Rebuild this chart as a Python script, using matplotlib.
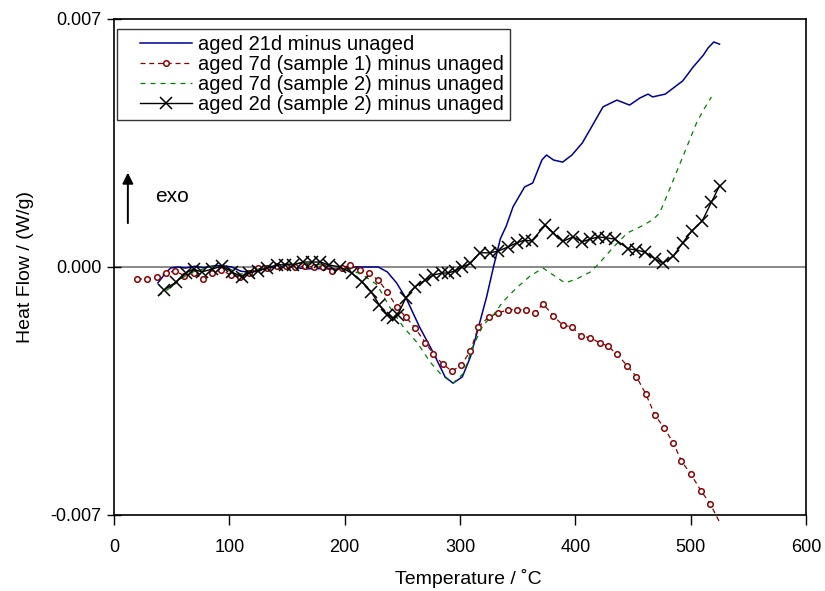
import numpy as np
import matplotlib
matplotlib.use("Agg")
from matplotlib import pyplot as plt
from matplotlib.ticker import FormatStrFormatter
from matplotlib.lines import Line2D
from matplotlib.legend_handler import HandlerLine2D

plt.rcParams['font.family'] = ['Liberation Sans', 'DejaVu Sans']
plt.rcParams['axes.unicode_minus'] = False

# heat flow values in mW/g (converted to W/g below)
t_21d = [38, 44, 49, 55, 62, 70, 78, 86, 94, 102, 110, 118, 126, 134, 142, 150, 158, 166,
         175, 183, 192, 200, 210, 220, 229, 237, 245, 254, 265, 277, 287, 294, 302, 309,
         316, 323, 329, 335, 340, 346, 356, 363, 371, 375, 381, 389, 397, 406, 414, 424,
         436, 447, 456, 463, 467, 478, 493, 497, 502, 511, 515, 520, 525]
hf_21d = [-0.45, -0.2, -0.03, 0.0, -0.03, 0.02, -0.02, 0.03, 0.04, 0.0, -0.12, -0.15, -0.08,
          -0.03, 0.0, 0.02, -0.02, -0.05, -0.05, -0.04, -0.06, -0.05, 0.0, 0.0, 0.0, -0.14,
          -0.45, -0.93, -1.7, -2.43, -3.1, -3.28, -3.1, -2.54, -1.7, -0.85, 0.0, 0.8, 1.15,
          1.7, 2.26, 2.37, 3.02, 3.16, 3.02, 2.96, 3.16, 3.5, 3.95, 4.52, 4.71, 4.57, 4.77,
          4.88, 4.8, 4.88, 5.25, 5.42, 5.64, 5.98, 6.18, 6.35, 6.29]

t_7d1 = [20, 29, 37, 45, 53, 61, 69, 77, 85, 93, 101, 109, 117, 125, 133, 141, 149, 157,
         166, 173, 181, 189, 198, 205, 213, 221, 229, 237, 245, 253, 261, 270, 277, 285,
         293, 301, 309, 316, 325, 333, 342, 349, 357, 365, 372, 381, 389, 397, 405, 413,
         421, 428, 436, 445, 453, 461, 469, 477, 485, 492, 500, 509, 517, 525]
hf_7d1 = [-0.34, -0.34, -0.28, -0.17, -0.11, -0.25, -0.17, -0.34, -0.17, -0.08, -0.23, -0.28,
          -0.17, -0.03, -0.03, 0.03, 0.03, 0.0, 0.03, 0.0, 0.0, -0.1, -0.02, 0.06, -0.08,
          -0.17, -0.37, -0.7, -1.13, -1.41, -1.72, -2.14, -2.46, -2.74, -2.94, -2.77, -2.37,
          -1.69, -1.41, -1.3, -1.2, -1.21, -1.21, -1.3, -1.04, -1.38, -1.64, -1.69, -1.95,
          -2.0, -2.14, -2.23, -2.46, -2.79, -3.1, -3.58, -4.18, -4.54, -4.97, -5.48, -5.84,
          -6.32, -6.69, -7.2]

t_7d2 = [38, 46, 54, 62, 70, 78, 86, 94, 102, 110, 118, 126, 134, 142, 150, 158, 166, 174,
         182, 190, 198, 205, 216, 228, 239, 251, 263, 274, 284, 294, 303, 311, 320, 329,
         337, 349, 361, 372, 381, 391, 401, 413, 420, 433, 445, 456, 467, 473, 479, 485,
         492, 499, 505, 511, 518]
hf_7d2 = [-0.82, -0.65, -0.45, -0.25, -0.12, -0.05, 0.02, 0.03, -0.08, -0.2, -0.12, -0.05,
          0.02, 0.05, 0.08, 0.1, 0.1, 0.08, 0.05, 0.02, -0.02, -0.08, -0.23, -0.5, -1.13,
          -1.7, -2.14, -2.68, -3.05, -3.28, -3.0, -2.26, -1.64, -1.35, -0.99, -0.59, -0.25,
          -0.03, -0.23, -0.45, -0.34, -0.14, 0.08, 0.56, 0.96, 1.13, 1.33, 1.52, 1.98, 2.46,
          3.02, 3.58, 4.06, 4.43, 4.8]

t_2d = [43, 54, 62, 69, 76, 85, 94, 102, 111, 117, 125, 133, 141, 148, 155, 164, 172, 179,
        186, 196, 206, 215, 223, 230, 237, 242, 246, 253, 261, 270, 277, 284, 290, 296,
        302, 309, 317, 326, 333, 342, 349, 356, 362, 374, 381, 389, 398, 406, 413, 420,
        427, 434, 446, 453, 460, 469, 476, 485, 493, 501, 510, 518, 525]
hf_2d = [-0.66, -0.42, -0.17, -0.06, -0.14, -0.06, 0.03, -0.14, -0.28, -0.17, -0.11, -0.03,
         0.06, 0.06, 0.06, 0.14, 0.14, 0.14, 0.06, 0.0, -0.17, -0.42, -0.7, -1.07, -1.35,
         -1.44, -1.35, -0.87, -0.56, -0.37, -0.23, -0.17, -0.17, -0.1, 0.0, 0.1, 0.4, 0.4,
         0.45, 0.57, 0.68, 0.76, 0.73, 1.18, 0.96, 0.72, 0.85, 0.71, 0.79, 0.85, 0.82, 0.79,
         0.51, 0.48, 0.42, 0.23, 0.11, 0.31, 0.68, 1.02, 1.3, 1.83, 2.29]

labels = ["aged 21d minus unaged",
          "aged 7d (sample 1) minus unaged",
          "aged 7d (sample 2) minus unaged",
          "aged 2d (sample 2) minus unaged"]

fig = plt.figure(figsize=(8.25, 5.91), dpi=100)
ax = fig.add_axes([0.1382, 0.1286, 0.8388, 0.8393])

ax.axhline(0, color="#808080", lw=1.3, zorder=1)

ax.plot(t_21d, np.array(hf_21d) / 1000, color="#000099", lw=1.1, label=labels[0])
ax.plot(t_7d1, np.array(hf_7d1) / 1000, color="#8b0000", lw=0.9, ls=(0, (4, 3)),
        marker="o", ms=4, mfc="white", mec="#8b0000", mew=1.1,
        markevery=slice(0, len(t_7d1) - 1), clip_on=False, label=labels[1])
ax.plot(t_7d2, np.array(hf_7d2) / 1000, color="#008000", lw=0.9, ls=(0, (4, 4)),
        label=labels[2])
ax.plot(t_2d, np.array(hf_2d) / 1000, color="black", lw=1.0, marker="x", ms=8, mew=1.1,
        label=labels[3])

ax.set_xlim(0, 600)
ax.set_ylim(-0.007, 0.007)
ax.set_xticks(np.arange(0, 601, 100))
ax.set_yticks([-0.007, 0.0, 0.007])
ax.yaxis.set_major_formatter(FormatStrFormatter('%.3f'))
ax.tick_params(axis="x", direction="out", length=7, width=1, labelsize=13, pad=10)
ax.tick_params(axis="y", direction="inout", length=10, width=1, labelsize=13, pad=4)
for s in ax.spines.values():
    s.set_linewidth(1.2)

ax.set_xlabel("Temperature / ˚C", fontsize=14, labelpad=8)
ax.xaxis.set_label_coords(0.512, -0.108)
ax.set_ylabel("Heat Flow / (W/g)", fontsize=14, labelpad=12)

# exo arrow
ax.annotate("", xy=(12, 0.00274), xytext=(12, 0.00116),
            arrowprops=dict(arrowstyle="-|>", color="black", lw=1.4, mutation_scale=16))
ax.text(35.5, 0.002, "exo", fontsize=15, ha="left", va="center")

leg = ax.legend(loc="upper left", bbox_to_anchor=(0.004, 0.98), borderaxespad=0,
                fontsize=14.5, frameon=True, fancybox=False, edgecolor="black",
                handlelength=3.45, handletextpad=0.3, labelspacing=0.05, borderpad=0.3,
                numpoints=1, handler_map={Line2D: HandlerLine2D(xpad=0.85)})
leg.get_frame().set_linewidth(1.0)

fig.savefig("out.png", dpi=100)
